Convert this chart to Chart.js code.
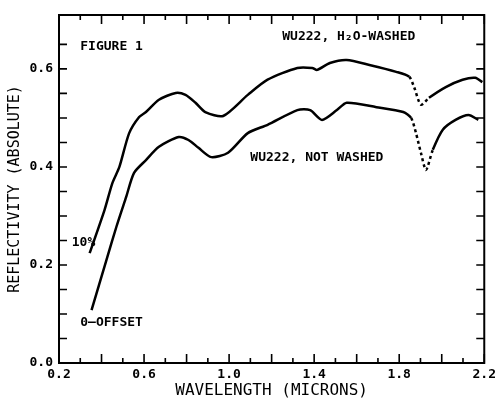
<!DOCTYPE html>
<html>
<head>
<meta charset="utf-8">
<script src="https://cdn.jsdelivr.net/npm/chart.js@4"></script>
<style>
  html, body { margin: 0; padding: 0; background: #fff; }
  #wrap { width: 500px; height: 400px; }
</style>
</head>
<body>
<div id="wrap"><canvas id="chart" width="500" height="400"></canvas></div>
<script>
// wavelength (microns) and reflectivity
const washedWave = [0.344, 0.414, 0.451, 0.484, 0.530, 0.577, 0.609, 0.670, 0.749, 0.795, 0.842, 0.888, 0.972,
    1.088, 1.181, 1.321, 1.391, 1.414, 1.474, 1.553, 1.660, 1.786, 1.847, 1.870, 1.902, 1.940, 2.019, 2.098, 2.158, 2.191];
const washedRefl = [0.224, 0.312, 0.367, 0.400, 0.469, 0.502, 0.512, 0.537, 0.551, 0.547, 0.531, 0.512, 0.504,
    0.547, 0.578, 0.602, 0.602, 0.598, 0.612, 0.618, 0.608, 0.594, 0.584, 0.563, 0.527, 0.541, 0.563, 0.578, 0.582, 0.573];

const notWashedWave = [0.353, 0.423, 0.470, 0.516, 0.553, 0.609, 0.670, 0.763, 0.809, 0.856, 0.916, 0.995, 1.088,
    1.181, 1.321, 1.381, 1.437, 1.507, 1.553, 1.693, 1.819, 1.856, 1.879, 1.902, 1.926, 1.958, 2.005, 2.065, 2.126, 2.172];
const notWashedRefl = [0.108, 0.210, 0.278, 0.339, 0.388, 0.414, 0.441, 0.461, 0.455, 0.439, 0.420, 0.429, 0.469,
    0.486, 0.516, 0.516, 0.496, 0.516, 0.531, 0.522, 0.512, 0.500, 0.469, 0.429, 0.394, 0.435, 0.476, 0.496, 0.506, 0.496];

const xTickLabels = ['0.2', '0.6', '1.0', '1.4', '1.8', '2.2'];
const yTickLabels = ['0.0', '0.2', '0.4', '0.6'];

// text notes placed in data coordinates
const notes = [
    { text: 'FIGURE 1', x: 0.30, y: 0.645 },
    { text: 'WU222, H₂O-WASHED', x: 1.25, y: 0.665 },
    { text: 'WU222, NOT WASHED', x: 1.10, y: 0.420 },
    { text: '10%', x: 0.26, y: 0.245 },
    { text: '0—OFFSET', x: 0.30, y: 0.082 }
];

const toPoints = (xs, ys) => xs.map((x, i) => ({ x: x, y: ys[i] }));
const dipDash = ctx => (ctx.p0.parsed.x >= 1.84 && ctx.p1.parsed.x <= 1.96) ? [3, 3] : undefined;
const FONT = '"DejaVu Sans Mono", monospace';

const frame = {
    id: 'frame',
    afterDraw(chart) {
        const ctx = chart.ctx;
        const a = chart.chartArea;
        const xs = chart.scales.x, ys = chart.scales.y;
        ctx.save();
        ctx.strokeStyle = '#000';
        ctx.lineWidth = 2;
        ctx.strokeRect(a.left, a.top, a.right - a.left, a.bottom - a.top);
        ctx.lineWidth = 1.6;
        ctx.beginPath();
        xs.ticks.forEach(t => {
            const k = Math.round(t.value * 10);
            if (Math.abs(t.value * 10 - k) > 1e-6) return;
            const px = xs.getPixelForValue(t.value);
            const len = k % 2 === 0 ? 9 : 5;
            ctx.moveTo(px, a.bottom); ctx.lineTo(px, a.bottom - len);
            ctx.moveTo(px, a.top); ctx.lineTo(px, a.top + len);
        });
        ys.ticks.forEach(t => {
            const k = Math.round(t.value * 20);
            if (Math.abs(t.value * 20 - k) > 1e-6) return;
            const py = ys.getPixelForValue(t.value);
            ctx.moveTo(a.left, py); ctx.lineTo(a.left + 8, py);
            ctx.moveTo(a.right, py); ctx.lineTo(a.right - 8, py);
        });
        ctx.stroke();
        ctx.fillStyle = '#000';
        ctx.font = 'bold 13px ' + FONT;
        ctx.textBaseline = 'middle';
        notes.forEach(n => {
            ctx.fillText(n.text, xs.getPixelForValue(n.x), ys.getPixelForValue(n.y));
        });
        ctx.restore();
    }
};

new Chart(document.getElementById('chart'), {
    type: 'line',
    data: {
        datasets: [
            {
                label: 'WU222, H2O-washed',
                data: toPoints(washedWave, washedRefl),
                borderColor: '#000',
                borderWidth: 2.5,
                pointRadius: 0,
                tension: 0.25,
                segment: { borderDash: dipDash }
            },
            {
                label: 'WU222, not washed',
                data: toPoints(notWashedWave, notWashedRefl),
                borderColor: '#000',
                borderWidth: 2.5,
                pointRadius: 0,
                tension: 0.25,
                segment: { borderDash: dipDash }
            }
        ]
    },
    options: {
        responsive: false,
        animation: false,
        layout: { padding: { top: 15, right: 12, left: 0, bottom: 0 } },
        plugins: { legend: { display: false }, tooltip: { enabled: false } },
        scales: {
            x: {
                type: 'linear',
                min: 0.2,
                max: 2.2,
                afterFit(scale) { scale.height = 37; },
                grid: { display: false, drawTicks: false },
                border: { display: false },
                ticks: {
                    stepSize: 0.1,
                    autoSkip: false,
                    maxRotation: 0,
                    padding: 4,
                    color: '#000',
                    font: { family: FONT, size: 13, weight: 'bold' },
                    callback: v => xTickLabels.includes(v.toFixed(1)) ? v.toFixed(1) : ''
                },
                title: {
                    display: true,
                    text: 'WAVELENGTH (MICRONS)',
                    color: '#000',
                    padding: 0,
                    font: { family: FONT, size: 16 }
                }
            },
            y: {
                min: 0,
                max: 0.71,
                afterFit(scale) { scale.width = 59; },
                grid: { display: false, drawTicks: false },
                border: { display: false },
                ticks: {
                    stepSize: 0.05,
                    autoSkip: false,
                    padding: 6,
                    color: '#000',
                    font: { family: FONT, size: 13, weight: 'bold' },
                    callback: v => yTickLabels.includes(v.toFixed(1)) && Math.abs(v * 5 - Math.round(v * 5)) < 1e-6 ? v.toFixed(1) : ''
                },
                title: {
                    display: true,
                    text: 'REFLECTIVITY (ABSOLUTE)',
                    color: '#000',
                    padding: { top: 6, bottom: 0 },
                    font: { family: FONT, size: 15 }
                }
            }
        }
    },
    plugins: [frame]
});
</script>
</body>
</html>
